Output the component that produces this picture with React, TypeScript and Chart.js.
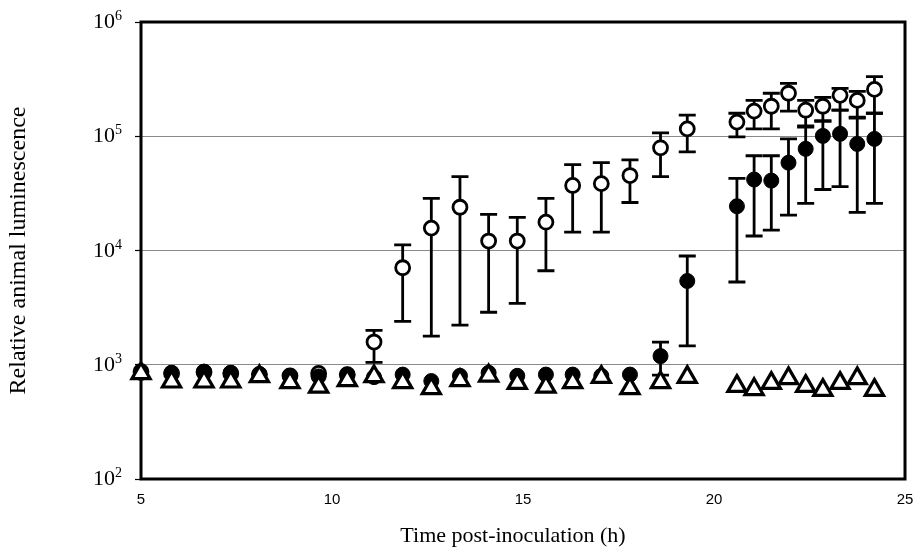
import React, { useEffect, useRef } from 'react';
import { Chart, registerables } from 'chart.js';

Chart.register(...registerables);

// Time post-inoculation (h)
const times = [5.0, 5.8, 6.65, 7.35, 8.1, 8.9, 9.65, 10.4, 11.1, 11.85, 12.6, 13.35, 14.1, 14.85, 15.6, 16.3, 17.05, 17.8, 18.6, 19.3, 20.6, 21.05, 21.5, 21.95, 22.4, 22.85, 23.3, 23.75, 24.2];

// Open circles
const openMean = [870, 840, 860, 840, 820, 800, 840, 820, 1580, 7060, 15700, 23900, 12100, 12100, 17700, 37100, 38500, 45300, 79200, 116000, 133000, 166000, 183000, 238000, 169000, 183000, 228000, 206000, 257000];
const openHigh = [null, null, null, null, null, null, null, null, 2000, 11200, 28600, 44400, 20700, 19500, 28600, 56400, 58700, 62200, 107000, 153000, 159000, 206000, 238000, 290000, 206000, 219000, 262000, 247000, 333000];
const openLow = [null, null, null, null, null, null, null, null, 1050, 2400, 1780, 2220, 2880, 3440, 6650, 14500, 14500, 26300, 44400, 73100, 98600, 116000, 116000, 166000, 123000, 136000, 169000, 144000, 159000];

// Filled circles
const filledMean = [850, 850, 870, 850, 830, 800, 790, 820, 780, 820, 720, 800, 850, 800, 820, 820, 800, 820, 1190, 5410, 24400, 41800, 40900, 58700, 77600, 100700, 105000, 85700, 94800];
const filledHigh = [null, null, null, null, null, null, null, null, null, null, null, null, null, null, null, null, null, null, 1580, 8950, 42700, 67500, 67500, 94800, 120000, 136000, 169000, 147000, 159000];
const filledLow = [null, null, null, null, null, null, null, null, null, null, null, null, null, null, null, null, null, null, 810, 1460, 5300, 13400, 15100, 20400, 25900, 34200, 36300, 21600, 25900];

// Open triangles
const triangleMean = [840, 710, 710, 710, 790, 700, 640, 730, 790, 700, 620, 730, 800, 690, 640, 700, 780, 620, 700, 780, 650, 610, 690, 760, 650, 600, 690, 760, 600];

const xTickValues = [5, 10, 15, 20, 25];
const yTickExponents = [2, 3, 4, 5, 6];
const xTitle = 'Time post-inoculation (h)';
const yTitle = 'Relative animal luminescence';

export default function App() {
  const ref = useRef<HTMLCanvasElement>(null);

  useEffect(() => {
    document.body.style.margin = '0';
    const canvas = ref.current;
    if (!canvas) return;

    const errorSets = [
      { hi: openHigh, lo: openLow },
      { hi: filledHigh, lo: filledLow },
    ];

    const framePlugin = {
      id: 'frameAndErrors',
      beforeDatasetsDraw(chart: any) {
        const { ctx, chartArea } = chart;
        const xs = chart.scales.x;
        const ys = chart.scales.y;
        ctx.save();
        ctx.strokeStyle = '#000';
        ctx.lineWidth = 3;
        ctx.strokeRect(chartArea.left, chartArea.top, chartArea.right - chartArea.left, chartArea.bottom - chartArea.top);
        ctx.lineWidth = 2.8;
        ctx.lineCap = 'butt';
        for (const set of errorSets) {
          for (let i = 0; i < times.length; i++) {
            const h = set.hi[i];
            const l = set.lo[i];
            if (h == null || l == null) continue;
            const x = xs.getPixelForValue(times[i]);
            const yh = ys.getPixelForValue(h);
            const yl = ys.getPixelForValue(l);
            ctx.beginPath();
            ctx.moveTo(x, yh);
            ctx.lineTo(x, yl);
            ctx.moveTo(x - 8.5, yh);
            ctx.lineTo(x + 8.5, yh);
            ctx.moveTo(x - 8.5, yl);
            ctx.lineTo(x + 8.5, yl);
            ctx.stroke();
          }
        }
        ctx.restore();
      },
      afterDraw(chart: any) {
        const { ctx, chartArea } = chart;
        const xs = chart.scales.x;
        const ys = chart.scales.y;
        const right = 122;
        ctx.save();
        ctx.fillStyle = '#000';
        ctx.textBaseline = 'alphabetic';
        for (const e of yTickExponents) {
          const y = ys.getPixelForValue(Math.pow(10, e));
          ctx.font = '14px "Liberation Serif"';
          const sup = String(e);
          const supW = ctx.measureText(sup).width;
          ctx.textAlign = 'left';
          ctx.fillText(sup, right - supW, y - 2);
          ctx.font = '22px "Liberation Serif"';
          ctx.textAlign = 'right';
          ctx.fillText('10', right - supW, y + 6);
        }
        ctx.font = '15px "Liberation Sans"';
        ctx.textAlign = 'center';
        ctx.textBaseline = 'middle';
        for (const v of xTickValues) {
          ctx.fillText(String(v), xs.getPixelForValue(v), chartArea.bottom + 21);
        }
        ctx.font = '22px "Liberation Serif"';
        ctx.fillText(xTitle, 513, 536);
        ctx.restore();
      },
    };

    const chart = new Chart(canvas, {
      type: 'scatter',
      data: {
        datasets: [
          {
            label: 'triangles',
            data: times.map((t, i) => ({ x: t, y: triangleMean[i] })),
            pointStyle: 'triangle',
            pointRadius: 10.5,
            borderWidth: 3.2,
            borderColor: '#000',
            backgroundColor: '#fff',
            clip: false,
          },
          {
            label: 'filled',
            data: times.map((t, i) => ({ x: t, y: filledMean[i] })),
            pointStyle: 'circle',
            pointRadius: 7.5,
            borderWidth: 1,
            borderColor: '#000',
            backgroundColor: '#000',
            clip: false,
          },
          {
            label: 'open',
            data: times.map((t, i) => ({ x: t, y: openMean[i] })),
            pointStyle: 'circle',
            pointRadius: 7,
            borderWidth: 2.8,
            borderColor: '#000',
            backgroundColor: '#fff',
            clip: false,
          },
        ],
      },
      options: {
        responsive: false,
        animation: false,
        layout: { autoPadding: false, padding: { left: 0, right: 10, top: 22, bottom: 0 } },
        plugins: {
          legend: { display: false },
          tooltip: { enabled: false },
        },
        scales: {
          x: {
            type: 'linear',
            min: 5,
            max: 25,
            afterBuildTicks: (s: any) => {
              s.ticks = xTickValues.map((v) => ({ value: v }));
            },
            afterFit: (s: any) => {
              s.height = 76;
            },
            ticks: { display: false },
            grid: { display: false, drawTicks: false },
            border: { display: false },
            title: { display: false },
          },
          y: {
            type: 'logarithmic',
            min: 100,
            max: 1000000,
            afterBuildTicks: (s: any) => {
              s.ticks = yTickExponents.map((e) => ({ value: Math.pow(10, e) }));
            },
            afterFit: (s: any) => {
              s.width = 141;
            },
            ticks: { display: false },
            grid: {
              color: '#8a8a8a',
              lineWidth: 1,
              drawTicks: true,
              tickLength: 6,
              tickColor: '#000',
              tickWidth: 1.2,
            },
            border: { display: false },
            title: {
              display: true,
              text: yTitle,
              color: '#000',
              font: { family: '"Liberation Serif"', size: 24 },
              padding: { top: 4, bottom: 0 },
            },
          },
        },
      },
      plugins: [framePlugin],
    });

    return () => chart.destroy();
  }, []);

  return (
    <div style={{ position: 'absolute', left: 0, top: 0, width: 915, height: 555 }}>
      <canvas ref={ref} width={915} height={555} style={{ display: 'block' }} />
    </div>
  );
}
